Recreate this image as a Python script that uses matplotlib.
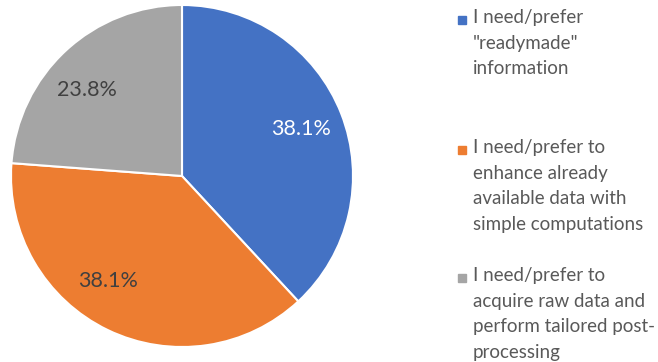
import numpy as np
import matplotlib.pyplot as plt
from matplotlib.patches import Rectangle

plt.rcParams['font.family'] = ['Lato', 'DejaVu Sans']

# Antworten und Anteile
categories = [
    'I need/prefer\n"readymade"\ninformation',
    'I need/prefer to\nenhance already\navailable data with\nsimple computations',
    'I need/prefer to\nacquire raw data and\nperform tailored post-\nprocessing',
]
shares = [38.1, 38.1, 23.8]
colors = ['#4472C4', '#ED7D31', '#A5A5A5']
label_colors = ['white', '#404040', '#404040']
label_shift = [0, -9.5, 5]  # Grad, Beschriftung etwas vom Sektormittel weg

W, H = 658, 362
fig = plt.figure(figsize=(W / 100, H / 100), dpi=100)

# Kreis: Mitte bei (182, 176) px, Radius 171 px
cx, cy, r = 182, 176, 171
ax = fig.add_axes([(cx - r) / W, (H - cy - r) / H, 2 * r / W, 2 * r / H])
wedges, texts, autotexts = ax.pie(
    shares, colors=colors, startangle=90, counterclock=False,
    autopct='%.1f%%', pctdistance=0.75,
    wedgeprops=dict(edgecolor='white', linewidth=1.5),
    textprops=dict(fontsize=15.5),
)
for w, t, c, d in zip(wedges, autotexts, label_colors, label_shift):
    t.set_color(c)
    ang = np.deg2rad((w.theta1 + w.theta2) / 2 + d)
    t.set_position((0.75 * np.cos(ang), 0.75 * np.sin(ang)))
ax.set_xlim(-1.0, 1.0)
ax.set_ylim(-1.0, 1.0)
ax.set_aspect('equal')

# Legende von Hand, Marker auf Höhe der ersten Zeile
tops = [9, 139, 267]
for lab, col, top in zip(categories, colors, tops):
    fig.text(473 / W, 1 - top / H, lab, ha='left', va='top', fontsize=13.5,
             color='#595959', linespacing=1.62)
    fig.add_artist(Rectangle((458 / W, 1 - (top + 15) / H), 8 / W, 8 / H,
                             transform=fig.transFigure, color=col))

fig.savefig('out.png', dpi=100)
